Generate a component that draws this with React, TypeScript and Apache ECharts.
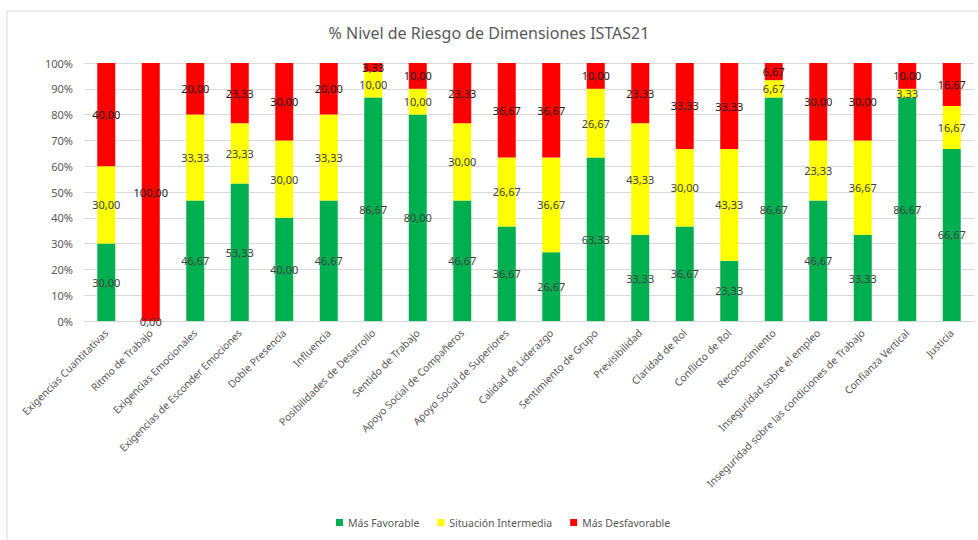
import React, { useEffect, useRef } from "react";
import * as echarts from "echarts";

const categories = [
  "Exigencias Cuantitativas",
  "Ritmo de Trabajo",
  "Exigencias Emocionales",
  "Exigencias de Esconder Emociones",
  "Doble Presencia",
  "Influencia",
  "Posibilidades de Desarrollo",
  "Sentido de Trabajo",
  "Apoyo Social de Compañeros",
  "Apoyo Social de Superiores",
  "Calidad de Liderazgo",
  "Sentimiento de Grupo",
  "Previsibilidad",
  "Claridad de Rol",
  "Conflicto de Rol",
  "Reconocimiento",
  "Inseguridad sobre el empleo",
  "Inseguridad sobre las condiciones de Trabajo",
  "Confianza Vertical",
  "Justicia",
];

const masFavorable = [30.0, 0.0, 46.67, 53.33, 40.0, 46.67, 86.67, 80.0, 46.67, 36.67, 26.67, 63.33, 33.33, 36.67, 23.33, 86.67, 46.67, 33.33, 86.67, 66.67];
const situacionIntermedia = [30.0, 0.0, 33.33, 23.33, 30.0, 33.33, 10.0, 10.0, 30.0, 26.67, 36.67, 26.67, 43.33, 30.0, 43.33, 6.67, 23.33, 36.67, 3.33, 16.67];
const masDesfavorable = [40.0, 100.0, 20.0, 23.33, 30.0, 20.0, 3.33, 10.0, 23.33, 36.67, 36.67, 10.0, 23.33, 33.33, 33.33, 6.67, 30.0, 30.0, 10.0, 16.67];

const yTicks = [0, 10, 20, 30, 40, 50, 60, 70, 80, 90, 100];

const FONT = "'Noto Sans', 'Open Sans', sans-serif";

const fmt = (v: number) => v.toFixed(2).replace(".", ",");

export default function App() {
  const ref = useRef<HTMLDivElement>(null);
  useEffect(() => {
    if (!ref.current) return;
    const chart = echarts.init(ref.current, undefined, { renderer: "svg" });
    const mkSeries = (name: string, data: number[], color: string, labelColor: string, showZero: boolean) => ({
      name,
      type: "bar",
      stack: "total",
      data,
      barWidth: 18,
      itemStyle: { color },
      label: {
        show: true,
        position: "inside",
        color: labelColor,
        fontSize: 11,
        fontFamily: FONT,
        formatter: (p: any) => (p.value === 0 && !showZero ? "" : fmt(p.value)),
      },
    });
    chart.setOption({
      animation: false,
      textStyle: { fontFamily: FONT },
      title: {
        text: "% Nivel de Riesgo de Dimensiones ISTAS21",
        left: "center",
        top: 20,
        textStyle: { fontSize: 16, fontWeight: "normal", color: "#595959", fontFamily: FONT },
      },
      graphic: [
        {
          type: "rect",
          shape: { x: 7, y: 11, width: 990, height: 560 },
          style: { fill: "none", stroke: "#d9d9d9", lineWidth: 1 },
          silent: true,
          z: -10,
        },
      ],
      legend: {
        data: ["Más Favorable", "Situación Intermedia", "Más Desfavorable"],
        left: 331,
        top: 512,
        icon: "rect",
        itemWidth: 7,
        itemHeight: 7,
        itemGap: 18,
        textStyle: { fontSize: 10.5, color: "#595959", fontFamily: FONT },
      },
      grid: { left: 84, right: 4, top: 63, bottom: 219, containLabel: false },
      xAxis: {
        type: "category",
        data: categories,
        axisLine: { lineStyle: { color: "#d9d9d9" } },
        axisTick: { show: false },
        axisLabel: {
          rotate: 45,
          interval: 0,
          margin: 10,
          fontSize: 10.3,
          color: "#595959",
          fontFamily: FONT,
        },
      },
      yAxis: {
        type: "value",
        min: yTicks[0],
        max: yTicks[yTicks.length - 1],
        interval: 10,
        axisLine: { show: false },
        axisTick: { show: false },
        axisLabel: { formatter: "{value}%", fontSize: 11, color: "#595959", margin: 11, fontFamily: FONT },
        splitLine: { lineStyle: { color: "#d9d9d9" } },
      },
      series: [
        mkSeries("Más Favorable", masFavorable, "#00b050", "#404040", true),
        mkSeries("Situación Intermedia", situacionIntermedia, "#ffff00", "#404040", false),
        mkSeries("Más Desfavorable", masDesfavorable, "#ff0000", "#1a1a1a", false),
      ],
    });
    return () => chart.dispose();
  }, []);
  return (
    <div
      ref={ref}
      style={{ position: "fixed", left: 0, top: 0, width: 978, height: 540, background: "#fff" }}
    />
  );
}
